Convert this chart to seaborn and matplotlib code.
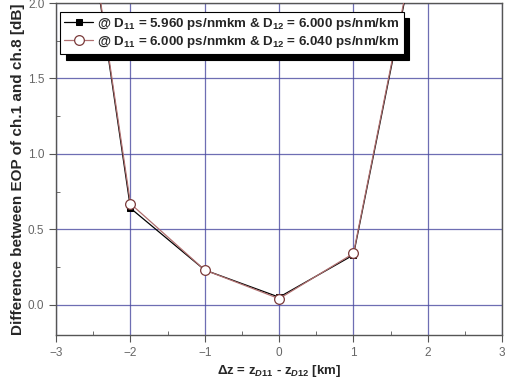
import matplotlib
matplotlib.use("Agg")
import matplotlib.pyplot as plt
import seaborn as sns
import pandas as pd
from matplotlib.ticker import MultipleLocator

# data
dz = [-3, -2, -1, 0, 1, 2]
eop_a = [4.0, 0.64, 0.23, 0.05, 0.33, 2.78]
eop_b = [4.0, 0.67, 0.23, 0.04, 0.34, 2.80]
label_a = r"@ D$_{\mathbf{11}}$ = 5.960 ps/nmkm & D$_{\mathbf{12}}$ = 6.000 ps/nm/km"
label_b = r"@ D$_{\mathbf{11}}$ = 6.000 ps/nmkm & D$_{\mathbf{12}}$ = 6.040 ps/nm/km"
xticks = [-3, -2, -1, 0, 1, 2, 3]
yticks = [0.0, 0.5, 1.0, 1.5, 2.0]

sns.set_style("white")
plt.rcParams['font.family'] = ['Liberation Sans', 'DejaVu Sans']
plt.rcParams['mathtext.fontset'] = 'custom'
plt.rcParams['mathtext.rm'] = 'Liberation Sans:bold'
plt.rcParams['mathtext.bf'] = 'Liberation Sans:bold'
plt.rcParams['mathtext.it'] = 'Liberation Sans:italic:bold'

fig = plt.figure(figsize=(5.15, 3.81), dpi=100)
ax = fig.add_axes([0.109, 0.121, 0.866, 0.871])

df_a = pd.DataFrame({"dz": dz, "v": eop_a})
df_b = pd.DataFrame({"dz": dz, "v": eop_b})

sns.lineplot(data=df_a, x="dz", y="v", ax=ax, color="black", lw=0.9,
             marker="s", markersize=5, markerfacecolor="black",
             markeredgecolor="black", label=label_a, zorder=3)
sns.lineplot(data=df_b, x="dz", y="v", ax=ax, color="#b07070", lw=0.9,
             marker="o", markersize=7, markerfacecolor="white",
             markeredgecolor="#7a3a3a", markeredgewidth=0.9, label=label_b, zorder=4)

ax.set_xlim(-3, 3)
ax.set_ylim(-0.2, 2.0)
ax.set_xticks(xticks)
ax.set_yticks(yticks)
ax.set_yticklabels([f"{t:.1f}" for t in yticks])
ax.xaxis.set_minor_locator(MultipleLocator(0.5))
ax.yaxis.set_minor_locator(MultipleLocator(0.25))
ax.grid(True, which="major", color="#4a4aa0", lw=0.9, alpha=0.8)
ax.set_axisbelow(True)
for s in ax.spines.values():
    s.set_color("#555555")
    s.set_linewidth(1.0)
ax.tick_params(axis="both", which="major", direction="out", length=5,
               color="#555555", labelcolor="#666666", labelsize=8.5, left=True, bottom=True)
ax.tick_params(axis="both", which="minor", direction="in", length=3,
               color="#555555", left=True, bottom=True)

ax.set_xlabel(r"$\Delta$z = z$_{D11}$ - z$_{D12}$ [km]", fontsize=9.5, fontweight="bold",
              labelpad=3)
ax.set_ylabel("Difference between EOP of ch.1 and ch.8 [dB]", fontsize=11,
              fontweight="bold", labelpad=2)

leg = ax.legend(loc="upper left", bbox_to_anchor=(0.0, 0.985),
                prop={"weight": "bold", "size": 9.6}, frameon=True, fancybox=False,
                shadow={"color": "black", "alpha": 1.0, "ox": 4, "oy": -4},
                borderpad=0.3, labelspacing=0.15, handlelength=2.2, handletextpad=0.3,
                borderaxespad=0.3)
leg.get_frame().set_edgecolor("black")
leg.get_frame().set_linewidth(0.8)

fig.savefig("out.png", dpi=100)
